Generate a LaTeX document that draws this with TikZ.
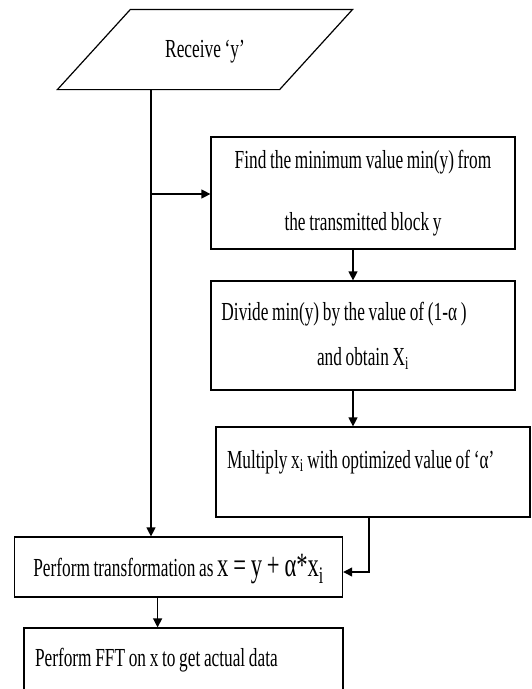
\documentclass[tikz,border=0pt]{standalone}
\usepackage{fontspec}
\setmainfont[FakeStretch=0.665,WordSpace=0.85]{Liberation Serif}
\usetikzlibrary{arrows.meta}
\def\eqsize{\fontsize{34}{34}\selectfont}
\tikzset{
	blk/.style={draw, line width=1.2pt, rectangle, inner sep=0pt, font=\fontsize{26}{30}\selectfont},
	flow/.style={line width=1.2pt, -{Triangle[length=9pt,width=9pt]}}
}

\begin{document}
\begin{tikzpicture}[x=1pt,y=-1pt]
			%%%%% START %%%%%
			\useasboundingbox (0,0) rectangle (531,689);
			
			\node[blk, draw=none, minimum width=221, minimum height=79, text height=18pt, text depth=3pt] (recv) at (205,49.5) {Receive ‘y’};
			\draw[line width=1.2pt] ([xshift=36.5pt]recv.north west) -- ([xshift=36.5pt]recv.north east) -- ([xshift=-36.5pt]recv.south east) -- ([xshift=-36.5pt]recv.south west) -- cycle;
			
			\node[blk, minimum width=304, minimum height=112, align=center] (find) at (363,193) {Find the minimum value min(y) from\\[32pt]the transmitted block y};
			\node[blk, minimum width=304, minimum height=109, align=center] (divide) at (363,335.5) {Divide min(y) by the value of (1-α )\hspace*{38pt}\mbox{}\\[15pt]and obtain X\textsubscript{i}};
			\node[blk, minimum width=314, minimum height=90, text height=18pt, text depth=26pt] (mult) at (373,472) {\makebox[292pt][l]{Multiply x\textsubscript{i} with optimized value of ‘α’}};
			
			\node[blk, minimum width=328, minimum height=60, text height=22pt, text depth=3pt] (trans) at (178.6,567) {Perform transformation as\ {\eqsize x = y + α*x\textsubscript{i}}};
			\node[blk, minimum width=319, minimum height=74, text height=18pt, text depth=16pt] (fft) at (183.5,665) {\makebox[297pt][l]{Perform FFT on x to get actual data}};
			
			\coordinate (split) at (151,194);
			\draw[flow] (recv.south -| split) -- (trans.north -| split);
			\draw[flow] (split) -- (split -| find.west);
			\draw[flow] ([xshift=-10pt]find.south) -- ([xshift=-10pt]divide.north);
			\draw[flow] ([xshift=-10pt]divide.south) -- ([xshift=-10pt]divide.south |- mult.north);
			\draw[flow] ([xshift=-4pt]mult.south) |- ([yshift=-5pt]trans.east);
			\draw[flow] ([xshift=-21pt]trans.south) -- ([xshift=-21pt]trans.south |- fft.north);
			
			%%%%% END %%%%%
\end{tikzpicture}
\end{document}
